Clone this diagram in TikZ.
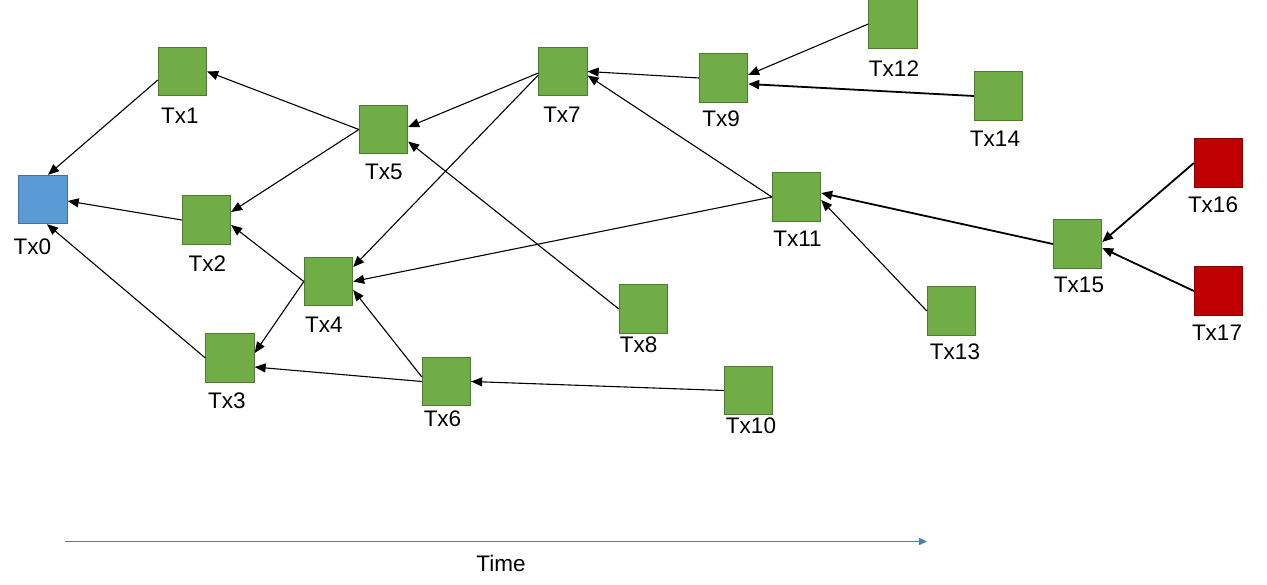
\documentclass[tikz,border=0pt]{standalone}
\usepackage{fontspec}
\setmainfont{Liberation Sans}
\usetikzlibrary{arrows.meta}
\definecolor{gfill}{HTML}{70AD47}
\definecolor{gline}{HTML}{4E7A31}
\definecolor{bfill}{HTML}{5B9BD5}
\definecolor{bline}{HTML}{41719C}
\definecolor{rfill}{HTML}{C00000}
\definecolor{rline}{HTML}{8C0000}
\definecolor{timeblue}{HTML}{4A7EBB}
\tikzset{
  txbox/.style={draw=gline, fill=gfill, line width=0.8pt, minimum size=48.5pt, inner sep=0pt},
  genesis/.style={txbox, draw=bline, fill=bfill},
  orphan/.style={txbox, draw=rline, fill=rfill},
  txlabel/.style={inner sep=0pt, font=\fontsize{22.5}{24}\selectfont},
  edge/.style={line width=1.1pt, -{Triangle[length=11pt,width=9pt]}},
  thickedge/.style={edge, line width=1.8pt},
  timeline/.style={draw=timeblue, line width=1.5pt, -{Triangle[length=8pt,width=7pt]}}
}
\begin{document}
\begin{tikzpicture}[x=1pt,y=-1pt]
\useasboundingbox (0,0) rectangle (1267,585);
% boxes
\node[genesis] (tx0) at (43,199.5) {};
\node[txbox] (tx1) at (182.5,71.5) {};
\node[txbox] (tx2) at (206.5,220) {};
\node[txbox] (tx3) at (230,358) {};
\node[txbox] (tx4) at (328.5,281.5) {};
\node[txbox] (tx5) at (383.5,129.5) {};
\node[txbox] (tx6) at (446.5,381.5) {};
\node[txbox] (tx7) at (563,71.5) {};
\node[txbox] (tx8) at (643.5,309) {};
\node[txbox] (tx9) at (723.5,78) {};
\node[txbox] (tx10) at (748.5,390.5) {};
\node[txbox] (tx11) at (796.5,197) {};
\node[txbox] (tx12) at (893,24) {};
\node[txbox] (tx13) at (951.5,311) {};
\node[txbox] (tx14) at (998.5,96) {};
\node[txbox] (tx15) at (1077.5,244) {};
\node[orphan] (tx16) at (1218.5,163) {};
\node[orphan] (tx17) at (1218.5,291) {};
% labels
\node[txlabel] (l0) at (32.5,246.5) {Tx0};
\node[txlabel] (l1) at (180,115.5) {Tx1};
\node[txlabel] (l2) at (207.5,263.5) {Tx2};
\node[txlabel] (l3) at (227,400.5) {Tx3};
\node[txlabel] (l4) at (324,325) {Tx4};
\node[txlabel] (l5) at (384,171.5) {Tx5};
\node[txlabel] (l6) at (442.5,419) {Tx6};
\node[txlabel] (l7) at (562,115) {Tx7};
\node[txlabel] (l8) at (638.5,345) {Tx8};
\node[txlabel] (l9) at (721,118.5) {Tx9};
\node[txlabel] (l10) at (751,426) {Tx10};
\node[txlabel] (l11) at (797.5,238.5) {Tx11};
\node[txlabel] (l12) at (894,68.5) {Tx12};
\node[txlabel] (l13) at (955,352) {Tx13};
\node[txlabel] (l14) at (995,138.5) {Tx14};
\node[txlabel] (l15) at (1079,285) {Tx15};
\node[txlabel] (l16) at (1213,205) {Tx16};
\node[txlabel] (l17) at (1217,333) {Tx17};
% edges
\draw[edge] ([yshift=-8.5pt]tx1.west) -- ([xshift=5pt]tx0.north);
\draw[edge] (tx2.west) -- ([yshift=-1.5pt]tx0.east);
\draw[edge] (tx3.west) -- ([xshift=4pt]tx0.south);
\draw[edge] (tx5.west) -- (tx1.east);
\draw[edge] (tx5.west) -- ([yshift=8pt]tx2.east);
\draw[edge] (tx4.west) -- ([yshift=-5pt]tx2.east);
\draw[edge] (tx4.west) -- ([yshift=5pt]tx3.east);
\draw[edge] (tx6.west) -- ([yshift=-9pt]tx3.east);
\draw[edge] ([yshift=4.5pt]tx6.west) -- ([yshift=-8.5pt]tx4.east);
\draw[edge] ([yshift=-1.5pt]tx7.west) -- ([yshift=2.5pt]tx5.east);
\draw[edge] ([yshift=-3.5pt]tx7.west) -- ([yshift=14.5pt]tx4.east);
\draw[edge] (tx8.west) -- ([yshift=-12pt]tx5.east);
\draw[edge] (tx9.west) -- (tx7.east);
\draw[edge] (tx11.west) -- ([yshift=-4pt]tx7.east);
\draw[edge] (tx11.west) -- (tx4.east);
\draw[edge] (tx10.west) -- (tx6.east);
\draw[edge] (tx12.west) -- ([yshift=3pt]tx9.east);
\draw[thickedge] (tx14.west) -- ([yshift=-6pt]tx9.east);
\draw[edge] (tx13.west) -- ([yshift=-3pt]tx11.east);
\draw[thickedge] (tx15.west) -- ([yshift=4pt]tx11.east);
\draw[thickedge] (tx16.west) -- ([yshift=2pt]tx15.east);
\draw[thickedge] (tx17.west) -- ([yshift=-4pt]tx15.east);
% time axis
\coordinate (tstart) at (65,541.5);
\coordinate (tend) at (927,541.5);
\draw[timeline] (tstart) -- (tend);
\node[txlabel] (time) at (501,563.5) {Time};
\end{tikzpicture}
\end{document}
